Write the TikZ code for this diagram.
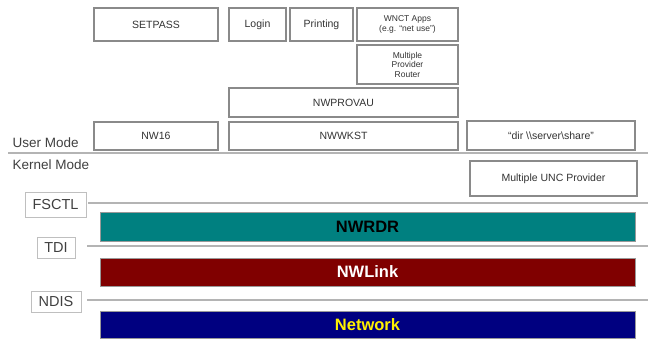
\documentclass[tikz,border=0pt]{standalone}
\usepackage{fontspec}
\setmainfont{Liberation Sans}
\definecolor{boxline}{HTML}{8A8A8A}
\definecolor{sepline}{HTML}{B4B4B4}
\definecolor{tealbar}{HTML}{008080}
\definecolor{redbar}{HTML}{800000}
\definecolor{bluebar}{HTML}{000080}
\tikzset{
	modbox/.style = {draw = boxline, line width = 1.2pt, fill = white, inner sep = 0pt, align = center, text = black!80, font = \fontsize{10.5}{11}\selectfont},
	smallbox/.style = {modbox, font = \fontsize{8.5}{9.5}\selectfont},
	layerbar/.style = {draw = black!40, line width = .6pt, inner sep = 0pt, minimum width = 535pt, font = \fontsize{16.5}{18}\selectfont\bfseries},
	ifacetag/.style = {draw = black!25, line width = .8pt, fill = white, inner sep = 0pt, text = black!75, font = \fontsize{14.5}{16}\selectfont},
	sepline/.style = {draw = sepline, line width = 1.6pt}
}
\begin{document}
\begin{tikzpicture}[x = 1pt, y = -1pt]
	\useasboundingbox (0,0) rectangle (648,338);
	% user mode
	\node[modbox, minimum width = 124pt, minimum height = 33pt] (setpass) at (156,24.5) {SETPASS};
	\node[modbox, minimum width = 57pt, minimum height = 33pt] (login) at (257.5,24.5) {Login};
	\node[modbox, minimum width = 63pt, minimum height = 33pt] (printing) at (321.5,24.5) {Printing};
	\node[smallbox, minimum width = 101pt, minimum height = 33pt] (wnctapps) at (407.5,24.5) {WNCT Apps\\(e.g. ``net use'')};
	\node[smallbox, minimum width = 101pt, minimum height = 39pt] (mpr) at (407.5,64.5) {Multiple\\Provider\\Router};
	\node[modbox, minimum width = 229pt, minimum height = 29pt] (nwprovau) at (343.5,102.5) {NWPROVAU};
	\node[modbox, minimum width = 124pt, minimum height = 28pt] (nw16) at (156,136) {NW16};
	\node[modbox, minimum width = 229pt, minimum height = 28pt] (nwwkst) at (343.5,136) {NWWKST};
	\node[modbox, minimum width = 168pt, minimum height = 29pt] (dircmd) at (551,135.5) {``dir \textbackslash\textbackslash server\textbackslash share''};
	\node[anchor = base west, text = black!75, font = \fontsize{13.5}{15}\selectfont] (usermode) at (9,147) {User Mode};
	\coordinate (ukleft) at (8,153);
	\coordinate (ukright) at (648,153);
	\draw[sepline] (ukleft) -- (ukright); % user / kernel border
	\node[anchor = west, text = black!75, font = \fontsize{13.5}{15}\selectfont] (kernelmode) at (9,165) {Kernel Mode};
	% kernel mode
	\node[modbox, minimum width = 167pt, minimum height = 35pt] (unc) at (553.5,178.5) {Multiple UNC Provider};
	\node[layerbar, fill = tealbar, text = black, minimum height = 29pt] (nwrdr) at (367.5,226.5) {NWRDR};
	\node[layerbar, fill = redbar, text = white, minimum height = 28pt] (nwlink) at (367.5,272) {NWLink};
	\node[layerbar, fill = bluebar, text = yellow, minimum height = 27pt] (network) at (367.5,324.5) {Network};
	% interfaces
	\node[ifacetag, minimum width = 61pt, minimum height = 25pt] (fsctl) at (55.5,204.5) {FSCTL};
	\node[ifacetag, minimum width = 38pt, minimum height = 21pt] (tdi) at (56,247.5) {TDI};
	\node[ifacetag, minimum width = 50pt, minimum height = 21pt] (ndis) at (56,301.5) {NDIS};
	\coordinate (fsctlend) at (648,203);
	\coordinate (tdiend) at (648,246);
	\coordinate (ndisend) at (648,300);
	\draw[sepline] (fsctl.east |- fsctlend) ++(2,0) -- (fsctlend);
	\draw[sepline] (tdi.east |- tdiend) ++(12,0) -- (tdiend);
	\draw[sepline] (ndis.east |- ndisend) ++(6,0) -- (ndisend);
\end{tikzpicture}
\end{document}
